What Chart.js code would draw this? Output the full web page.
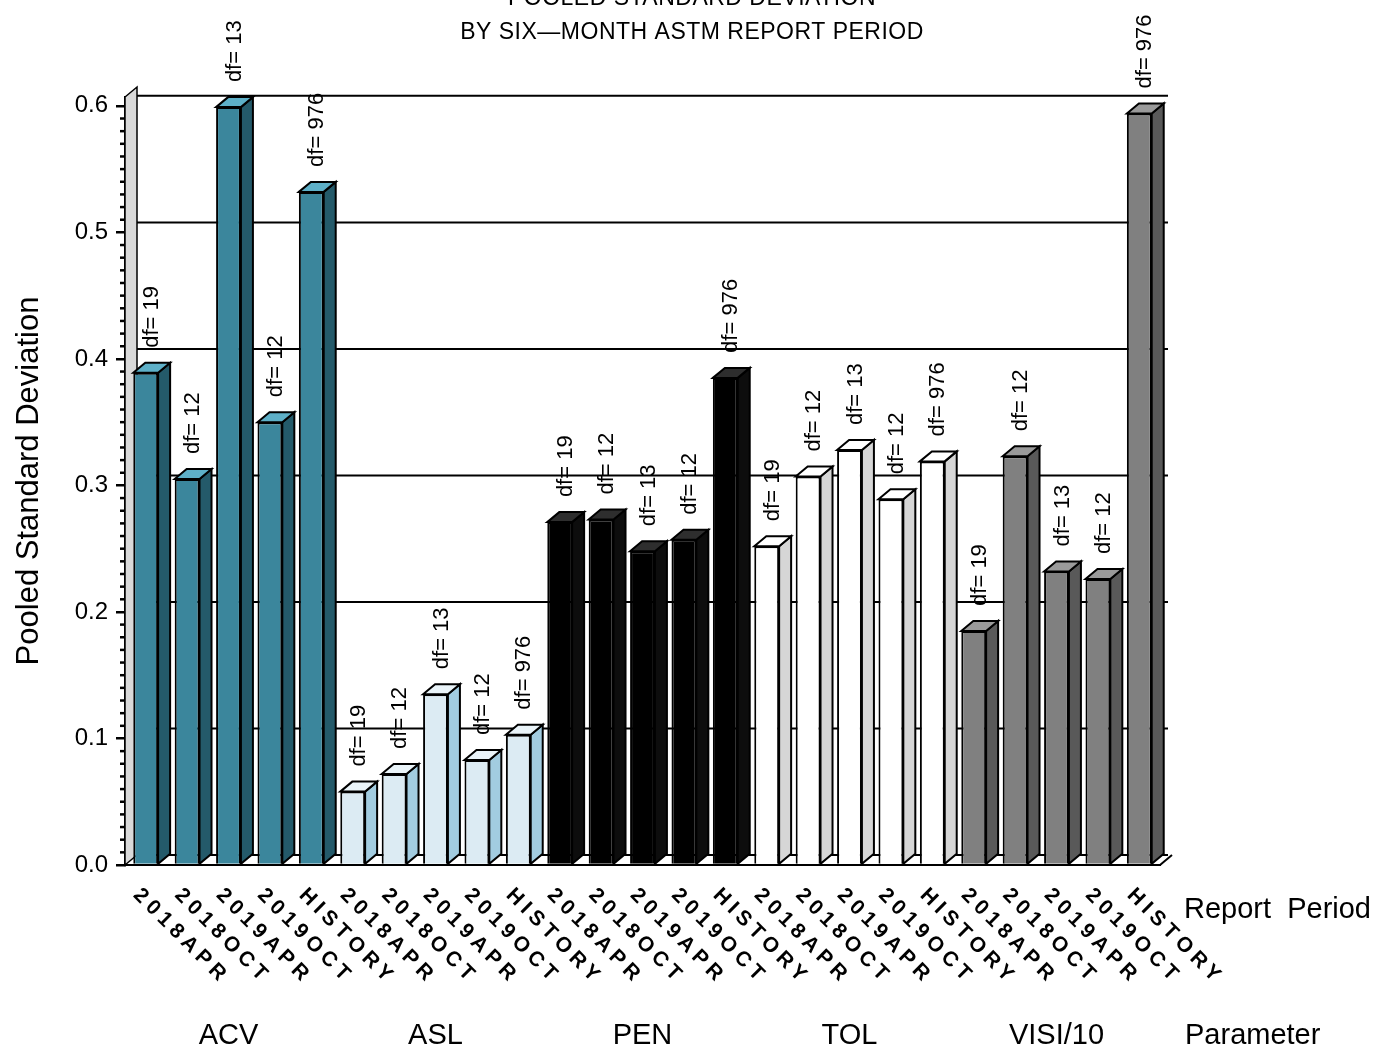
<!DOCTYPE html>
<html>
<head>
<meta charset="utf-8">
<script src="https://cdn.jsdelivr.net/npm/chart.js@4/dist/chart.umd.min.js"></script>
<style>
  html, body { margin: 0; padding: 0; background: #fff; }
  canvas { display: block; }
</style>
</head>
<body>
<canvas id="sdChart" width="1383" height="1052"></canvas>
<script>
// Datos
const parameters = ['ACV', 'ASL', 'PEN', 'TOL', 'VISI/10'];
const periods = ['2018APR', '2018OCT', '2019APR', '2019OCT', 'HISTORY'];
const acvValues = [0.389, 0.305, 0.599, 0.350, 0.532];
const aslValues = [0.058, 0.072, 0.135, 0.083, 0.103];
const penValues = [0.271, 0.273, 0.248, 0.257, 0.385];
const tolValues = [0.252, 0.307, 0.328, 0.289, 0.319];
const visiValues = [0.185, 0.323, 0.232, 0.226, 0.594];
const dfValues = [19, 12, 13, 12, 976];
const yTicks = [0, 0.1, 0.2, 0.3, 0.4, 0.5, 0.6];

// Colores por parámetro: frente, lado, arriba
const frontColors = ['#3b869c', '#dcebf3', '#000000', '#ffffff', '#808080'];
const sideColors = ['#245a6a', '#a2cce0', '#0d0d0d', '#d6d6d6', '#595959'];
const topColors = ['#5eb0c8', '#eaf4f9', '#2e2e2e', '#ffffff', '#9a9a9a'];

const groupValues = [acvValues, aslValues, penValues, tolValues, visiValues];
const categories = [];
const values = [];
const barFront = [];
const barGroup = [];
const barDf = [];
groupValues.forEach((vals, g) => {
    vals.forEach((v, i) => {
        categories.push(periods[i]);
        values.push(v);
        barFront.push(frontColors[g]);
        barGroup.push(g);
        barDf.push(dfValues[i]);
    });
});

const FONT = '"Liberation Sans", Arial, Helvetica, sans-serif';
const DX = 12, DY = -10;

// Plugin para el efecto 3D y los textos tipo SAS
const threeD = {
    id: 'threeD',
    beforeDatasetsDraw(chart) {
        const { ctx, chartArea: a, scales: { y } } = chart;
        ctx.save();
        // pared izquierda
        ctx.fillStyle = '#d9d9d9';
        ctx.strokeStyle = '#000';
        ctx.lineWidth = 1.5;
        ctx.beginPath();
        ctx.moveTo(a.left, a.bottom);
        ctx.lineTo(a.left + DX, a.bottom + DY);
        ctx.lineTo(a.left + DX, a.top + DY);
        ctx.lineTo(a.left, a.top);
        ctx.closePath();
        ctx.fill();
        ctx.stroke();
        // líneas de la cuadrícula en la pared del fondo
        ctx.lineWidth = 2;
        yTicks.forEach(v => {
            const py = y.getPixelForValue(v) + DY;
            ctx.beginPath();
            ctx.moveTo(a.left + DX, py);
            ctx.lineTo(a.right + DX - 4, py);
            ctx.stroke();
        });
        // piso
        ctx.beginPath();
        ctx.moveTo(a.right, a.bottom);
        ctx.lineTo(a.right + DX, a.bottom + DY);
        ctx.stroke();
        // marcas menores del eje y
        ctx.lineWidth = 2.5;
        for (let k = 0; k <= 60; k++) {
            if (k % 10 === 0) continue;
            const py = y.getPixelForValue(k / 100);
            ctx.beginPath();
            ctx.moveTo(a.left - 5, py);
            ctx.lineTo(a.left, py);
            ctx.stroke();
        }
        ctx.restore();
    },
    afterDatasetsDraw(chart) {
        const { ctx, chartArea: a, scales: { x } } = chart;
        const meta = chart.getDatasetMeta(0);
        ctx.save();
        ctx.strokeStyle = '#000';
        ctx.lineWidth = 2;
        ctx.lineJoin = 'miter';
        meta.data.forEach((el, i) => {
            const p = el.getProps(['x', 'y', 'base', 'width'], true);
            const l = p.x - p.width / 2, r = p.x + p.width / 2;
            const g = barGroup[i];
            // lado
            ctx.fillStyle = sideColors[g];
            ctx.beginPath();
            ctx.moveTo(r, p.y);
            ctx.lineTo(r + DX, p.y + DY);
            ctx.lineTo(r + DX, p.base + DY);
            ctx.lineTo(r, p.base);
            ctx.closePath();
            ctx.fill();
            ctx.stroke();
            // arriba
            ctx.fillStyle = topColors[g];
            ctx.beginPath();
            ctx.moveTo(l, p.y);
            ctx.lineTo(l + DX, p.y + DY);
            ctx.lineTo(r + DX, p.y + DY);
            ctx.lineTo(r, p.y);
            ctx.closePath();
            ctx.fill();
            ctx.stroke();
            // etiqueta df
            ctx.save();
            ctx.fillStyle = '#000';
            ctx.font = '22px ' + FONT;
            ctx.translate(p.x + DX / 2, p.y - 25);
            ctx.rotate(-Math.PI / 2);
            ctx.textAlign = 'left';
            ctx.textBaseline = 'middle';
            ctx.fillText('df= ' + barDf[i], 0, 0);
            ctx.restore();
            // etiqueta del periodo
            ctx.save();
            ctx.fillStyle = '#000';
            ctx.font = 'bold 21px ' + FONT;
            ctx.letterSpacing = '5px';
            ctx.translate(p.x - 9, a.bottom + 27);
            ctx.rotate(Math.PI / 4);
            ctx.textAlign = 'left';
            ctx.textBaseline = 'middle';
            ctx.fillText(categories[i], 0, 0);
            ctx.restore();
        });

        // nombres de los parámetros
        ctx.fillStyle = '#000';
        ctx.font = '29px ' + FONT;
        ctx.textBaseline = 'middle';
        ctx.textAlign = 'center';
        parameters.forEach((name, g) => {
            const cx = x.getPixelForValue(g * 5 + 2);
            ctx.fillText(name, cx, 1036);
        });
        ctx.textAlign = 'left';
        ctx.fillText('Parameter', 1185, 1036);
        ctx.fillText('Report  Period', 1184, 910);

        // títulos
        ctx.textAlign = 'center';
        ctx.textBaseline = 'alphabetic';
        ctx.font = '23px ' + FONT;
        ctx.letterSpacing = '0.5px';
        ctx.fillText('POOLED STANDARD DEVIATION', 692, 5);
        ctx.fillText('BY SIX\u2014MONTH ASTM REPORT PERIOD', 692, 39);
        ctx.restore();
    }
};

const ctx = document.getElementById('sdChart').getContext('2d');
const chart = new Chart(ctx, {
    type: 'bar',
    data: {
        labels: categories,
        datasets: [{
            data: values,
            backgroundColor: barFront,
            borderColor: '#000',
            borderWidth: 2,
            barPercentage: 0.6,
            categoryPercentage: 1
        }]
    },
    options: {
        responsive: false,
        animation: false,
        devicePixelRatio: 1,
        layout: { padding: { top: 97, right: 223, left: 0, bottom: 0 } },
        plugins: { legend: { display: false }, tooltip: { enabled: false } },
        scales: {
            x: {
                ticks: { display: false },
                grid: { display: false },
                border: { display: true, color: '#000', width: 2 },
                afterFit(s) { s.height = 187; }
            },
            y: {
                min: 0,
                max: 0.607,
                afterBuildTicks(s) { s.ticks = yTicks.map(v => ({ value: v })); },
                ticks: {
                    color: '#000',
                    padding: 8,
                    font: { family: FONT, size: 24 },
                    callback: v => Number(v).toFixed(1)
                },
                grid: { drawOnChartArea: false, drawTicks: true, tickLength: 9, color: '#000', lineWidth: 2.5 },
                border: { display: true, color: '#000', width: 2 },
                title: {
                    display: true,
                    text: 'Pooled Standard Deviation',
                    color: '#000',
                    font: { family: FONT, size: 31 },
                    padding: { top: 11, bottom: 0 }
                },
                afterFit(s) { s.width = 125; }
            }
        }
    },
    plugins: [threeD]
});
</script>
</body>
</html>
